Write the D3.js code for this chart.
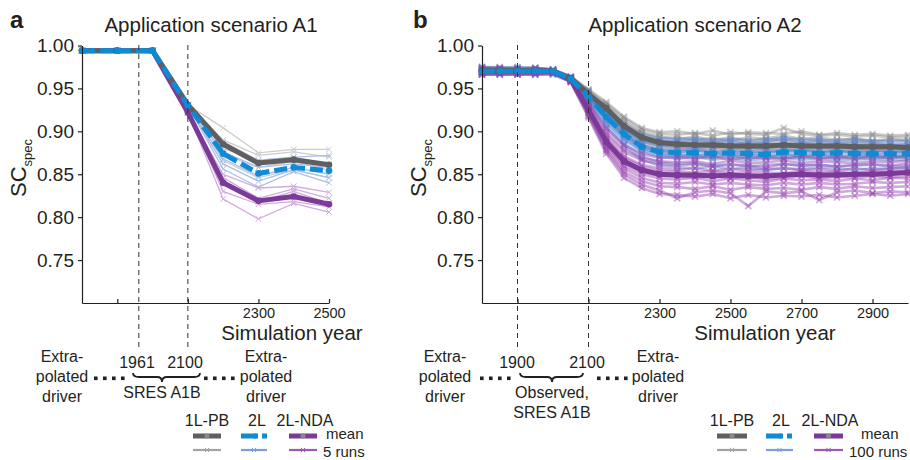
<!DOCTYPE html>
<html>
<head>
<meta charset="utf-8">
<script src="https://cdn.jsdelivr.net/npm/d3@7"></script>
<style>
  body { margin: 0; background: #fff; }
  text { font-family: "Liberation Sans", Arial, sans-serif; fill: #231f20; }
</style>
</head>
<body>
<svg id="drawing_region"></svg>
<script>
// ---- data ----
const yTicks = [0.75, 0.80, 0.85, 0.90, 0.95, 1.00];
const models = ["1L-PB", "2L", "2L-NDA"];

// panel a : application scenario A1, 5 runs
const yearsA = [1800, 1900, 2000, 2100, 2200, 2300, 2400, 2500];
const xTicksA = [1900, 2100, 2300, 2500];
const xLabelsA = [2300, 2500];
const meanA_1LPB = [0.994, 0.994, 0.994, 0.931, 0.885, 0.863, 0.867, 0.861];
const meanA_2L = [0.994, 0.994, 0.994, 0.930, 0.874, 0.851, 0.858, 0.854];
const meanA_2LNDA = [0.994, 0.994, 0.994, 0.922, 0.840, 0.819, 0.824, 0.815];
const runsA_1LPB = [
  [0.994, 0.994, 0.994, 0.931, 0.904, 0.875, 0.879, 0.879],
  [0.994, 0.994, 0.994, 0.931, 0.890, 0.872, 0.876, 0.870],
  [0.994, 0.994, 0.994, 0.931, 0.880, 0.866, 0.870, 0.862],
  [0.994, 0.994, 0.994, 0.931, 0.873, 0.858, 0.865, 0.855],
  [0.994, 0.994, 0.994, 0.931, 0.866, 0.846, 0.855, 0.846]
];
const runsA_2L = [
  [0.994, 0.994, 0.994, 0.930, 0.888, 0.866, 0.870, 0.872],
  [0.994, 0.994, 0.994, 0.930, 0.876, 0.858, 0.862, 0.858],
  [0.994, 0.994, 0.994, 0.930, 0.868, 0.848, 0.858, 0.850],
  [0.994, 0.994, 0.994, 0.930, 0.862, 0.842, 0.855, 0.846],
  [0.994, 0.994, 0.994, 0.930, 0.856, 0.835, 0.853, 0.840]
];
const runsA_2LNDA = [
  [0.994, 0.994, 0.994, 0.922, 0.850, 0.834, 0.836, 0.829],
  [0.994, 0.994, 0.994, 0.922, 0.846, 0.822, 0.833, 0.822],
  [0.994, 0.994, 0.994, 0.922, 0.838, 0.818, 0.830, 0.816],
  [0.994, 0.994, 0.994, 0.922, 0.830, 0.815, 0.818, 0.812],
  [0.994, 0.994, 0.994, 0.922, 0.821, 0.798, 0.816, 0.806]
];

// panel b : application scenario A2, 100 runs (a sample of them drawn)
const yearsB = [1800, 1850, 1900, 1950, 2000, 2050, 2100, 2150, 2200, 2250, 2300, 2350, 2400,
  2450, 2500, 2550, 2600, 2650, 2700, 2750, 2800, 2850, 2900, 2950, 3000];
const xTicksB = [1900, 2100, 2300, 2500, 2700, 2900];
const xLabelsB = [2300, 2500, 2700, 2900];
const meanB_1LPB = [0.971, 0.971, 0.971, 0.971, 0.970, 0.962, 0.943, 0.927, 0.906, 0.893, 0.887, 0.885,
  0.884, 0.884, 0.883, 0.883, 0.883, 0.884, 0.883, 0.883, 0.883, 0.882, 0.882, 0.882, 0.881];
const meanB_2L = [0.970, 0.970, 0.970, 0.970, 0.970, 0.961, 0.940, 0.917, 0.897, 0.882, 0.876, 0.875,
  0.875, 0.874, 0.875, 0.874, 0.873, 0.876, 0.875, 0.874, 0.875, 0.874, 0.874, 0.874, 0.874];
const meanB_2LNDA = [0.970, 0.970, 0.970, 0.970, 0.970, 0.960, 0.925, 0.888, 0.865, 0.855, 0.850, 0.849,
  0.849, 0.848, 0.849, 0.848, 0.848, 0.849, 0.850, 0.849, 0.849, 0.850, 0.850, 0.851, 0.852];
const runsB_1LPB = [
  [0.974,0.974,0.973,0.973,0.972,0.964,0.948,0.932,0.915,0.902,0.897,0.896,0.898,0.895,0.899,0.897,0.896,0.904,0.897,0.895,0.896,0.894,0.895,0.893,0.894],
  [0.972,0.973,0.972,0.972,0.971,0.963,0.945,0.928,0.910,0.898,0.892,0.893,0.890,0.892,0.889,0.893,0.891,0.890,0.892,0.889,0.890,0.891,0.888,0.890,0.889],
  [0.970,0.970,0.971,0.970,0.970,0.962,0.942,0.924,0.904,0.891,0.886,0.884,0.886,0.883,0.885,0.884,0.883,0.886,0.884,0.885,0.882,0.884,0.883,0.882,0.883],
  [0.968,0.969,0.969,0.968,0.969,0.961,0.940,0.921,0.900,0.887,0.880,0.879,0.878,0.880,0.877,0.879,0.878,0.877,0.880,0.876,0.878,0.877,0.879,0.876,0.877],
  [0.971,0.971,0.970,0.971,0.970,0.962,0.944,0.927,0.908,0.895,0.889,0.887,0.889,0.886,0.888,0.885,0.887,0.889,0.886,0.888,0.885,0.887,0.886,0.884,0.885],
  [0.969,0.970,0.970,0.969,0.969,0.961,0.941,0.922,0.902,0.889,0.883,0.881,0.880,0.882,0.879,0.881,0.879,0.880,0.878,0.880,0.879,0.878,0.877,0.879,0.878],
  [0.973,0.972,0.972,0.973,0.971,0.963,0.946,0.930,0.912,0.899,0.894,0.891,0.894,0.890,0.893,0.889,0.892,0.895,0.891,0.893,0.890,0.892,0.889,0.891,0.890],
  [0.967,0.968,0.968,0.967,0.968,0.960,0.938,0.918,0.897,0.884,0.876,0.874,0.872,0.875,0.871,0.874,0.870,0.873,0.871,0.873,0.872,0.870,0.872,0.871,0.870],
  [0.972,0.971,0.971,0.972,0.971,0.963,0.943,0.926,0.906,0.893,0.887,0.888,0.885,0.889,0.884,0.887,0.886,0.884,0.887,0.883,0.886,0.884,0.885,0.883,0.884],
  [0.970,0.969,0.970,0.970,0.969,0.961,0.942,0.923,0.903,0.890,0.884,0.882,0.884,0.881,0.883,0.880,0.882,0.881,0.883,0.881,0.880,0.882,0.880,0.881,0.879],
  [0.975,0.975,0.974,0.974,0.972,0.964,0.949,0.934,0.917,0.904,0.899,0.900,0.897,0.901,0.896,0.899,0.898,0.897,0.900,0.896,0.898,0.896,0.897,0.895,0.896],
  [0.966,0.967,0.967,0.966,0.967,0.959,0.937,0.916,0.894,0.881,0.873,0.870,0.871,0.869,0.872,0.868,0.871,0.869,0.870,0.868,0.870,0.869,0.868,0.870,0.869]
];
const runsB_2L = [
  [0.974,0.973,0.974,0.973,0.972,0.963,0.946,0.924,0.906,0.893,0.889,0.888,0.890,0.887,0.889,0.886,0.888,0.891,0.887,0.889,0.886,0.888,0.887,0.885,0.886],
  [0.972,0.972,0.971,0.972,0.971,0.962,0.943,0.920,0.901,0.888,0.883,0.882,0.880,0.883,0.881,0.882,0.879,0.884,0.881,0.880,0.882,0.879,0.881,0.880,0.881],
  [0.970,0.970,0.970,0.969,0.970,0.961,0.940,0.916,0.896,0.882,0.877,0.876,0.877,0.875,0.876,0.874,0.875,0.877,0.876,0.874,0.876,0.875,0.873,0.875,0.874],
  [0.968,0.968,0.969,0.968,0.969,0.960,0.937,0.911,0.890,0.876,0.870,0.868,0.870,0.867,0.869,0.866,0.868,0.869,0.867,0.868,0.866,0.867,0.868,0.866,0.867],
  [0.971,0.971,0.971,0.971,0.970,0.961,0.941,0.918,0.898,0.884,0.879,0.878,0.879,0.877,0.878,0.877,0.876,0.879,0.878,0.877,0.878,0.876,0.877,0.878,0.876],
  [0.969,0.969,0.968,0.969,0.968,0.960,0.938,0.913,0.892,0.878,0.872,0.871,0.872,0.870,0.872,0.869,0.870,0.872,0.870,0.871,0.869,0.871,0.870,0.869,0.870],
  [0.973,0.972,0.972,0.972,0.971,0.962,0.944,0.922,0.903,0.890,0.885,0.884,0.885,0.883,0.884,0.882,0.884,0.886,0.883,0.885,0.883,0.884,0.882,0.884,0.883],
  [0.967,0.967,0.967,0.968,0.967,0.959,0.935,0.908,0.886,0.871,0.864,0.862,0.863,0.860,0.862,0.859,0.861,0.862,0.860,0.861,0.859,0.860,0.861,0.859,0.860],
  [0.971,0.970,0.971,0.970,0.970,0.961,0.940,0.917,0.897,0.883,0.878,0.875,0.878,0.876,0.874,0.877,0.875,0.876,0.878,0.875,0.877,0.874,0.876,0.875,0.877],
  [0.969,0.970,0.969,0.969,0.969,0.960,0.939,0.914,0.894,0.880,0.874,0.873,0.871,0.874,0.872,0.873,0.871,0.874,0.872,0.873,0.871,0.873,0.872,0.871,0.873],
  [0.975,0.974,0.975,0.974,0.972,0.963,0.947,0.926,0.908,0.896,0.892,0.890,0.892,0.889,0.891,0.889,0.890,0.893,0.889,0.891,0.888,0.890,0.889,0.888,0.889],
  [0.966,0.966,0.966,0.966,0.966,0.958,0.933,0.905,0.883,0.867,0.860,0.858,0.857,0.859,0.856,0.858,0.855,0.857,0.856,0.858,0.857,0.855,0.857,0.856,0.858]
];
const runsB_2LNDA = [
  [0.974,0.974,0.973,0.974,0.972,0.963,0.934,0.903,0.884,0.874,0.869,0.870,0.868,0.871,0.867,0.870,0.869,0.868,0.871,0.869,0.870,0.868,0.871,0.869,0.872],
  [0.972,0.972,0.972,0.971,0.971,0.962,0.930,0.896,0.876,0.866,0.862,0.860,0.862,0.859,0.861,0.860,0.858,0.862,0.860,0.861,0.859,0.861,0.862,0.860,0.863],
  [0.970,0.970,0.970,0.970,0.970,0.960,0.927,0.891,0.869,0.859,0.854,0.853,0.852,0.854,0.851,0.853,0.852,0.851,0.854,0.852,0.853,0.851,0.854,0.853,0.855],
  [0.968,0.968,0.969,0.968,0.969,0.959,0.922,0.884,0.860,0.850,0.845,0.844,0.846,0.842,0.845,0.843,0.841,0.845,0.843,0.844,0.842,0.845,0.843,0.846,0.845],
  [0.971,0.971,0.970,0.971,0.970,0.961,0.928,0.893,0.871,0.861,0.857,0.855,0.857,0.854,0.856,0.855,0.856,0.857,0.855,0.856,0.854,0.857,0.855,0.857,0.858],
  [0.969,0.969,0.969,0.969,0.969,0.959,0.924,0.887,0.864,0.853,0.848,0.847,0.846,0.848,0.845,0.847,0.844,0.846,0.848,0.845,0.847,0.846,0.848,0.846,0.848],
  [0.973,0.973,0.972,0.972,0.971,0.962,0.932,0.899,0.879,0.869,0.865,0.864,0.865,0.862,0.866,0.863,0.864,0.866,0.863,0.865,0.864,0.863,0.865,0.864,0.866],
  [0.967,0.967,0.967,0.967,0.968,0.958,0.919,0.879,0.853,0.842,0.836,0.835,0.833,0.836,0.832,0.835,0.833,0.834,0.832,0.835,0.833,0.836,0.834,0.835,0.836],
  [0.971,0.970,0.971,0.970,0.970,0.960,0.926,0.889,0.866,0.856,0.851,0.850,0.849,0.851,0.849,0.850,0.848,0.850,0.852,0.849,0.851,0.850,0.851,0.849,0.852],
  [0.969,0.969,0.968,0.969,0.968,0.959,0.921,0.882,0.857,0.846,0.840,0.839,0.841,0.838,0.840,0.838,0.837,0.840,0.838,0.840,0.838,0.839,0.841,0.840,0.841],
  [0.966,0.966,0.966,0.966,0.967,0.957,0.916,0.874,0.846,0.834,0.827,0.826,0.824,0.827,0.822,0.826,0.823,0.825,0.824,0.826,0.823,0.825,0.827,0.825,0.827],
  [0.968,0.968,0.967,0.968,0.968,0.958,0.918,0.877,0.850,0.838,0.831,0.822,0.829,0.831,0.828,0.813,0.830,0.828,0.830,0.820,0.829,0.831,0.828,0.830,0.829]
];

const meanColors = ["#5f5f61", "#0f8bd6", "#7b3a98"];

const svg = d3.select('#drawing_region')
  .attr('width', 910)
  .attr('height', 460);

const yscale = d3.scaleLinear().domain([0.70, 1.00]).range([303, 45.5]);

function drawPanel(cfg) {
  const g = svg.append('g');
  const xscale = d3.scaleLinear().domain(cfg.domain).range(cfg.range);
  const line = d3.line().x((d, i) => xscale(cfg.years[i])).y(d => yscale(d));
  const cross = d3.symbol().type(d3.symbolX).size(cfg.crossSize);

  // panel letter and title
  g.append('text').attr('x', cfg.letterX).attr('y', 28)
    .attr('font-size', '24px').attr('font-weight', 'bold').text(cfg.letter);
  g.append('text').attr('x', cfg.titleX).attr('y', 32)
    .attr('text-anchor', 'middle').attr('font-size', '20.5px').text(cfg.title);

  // y label SC_spec
  const yl = g.append('text')
    .attr('transform', `translate(${cfg.range[0] - 56}, 197) rotate(-90)`)
    .attr('font-size', '22px');
  yl.append('tspan').text('SC');
  yl.append('tspan').attr('font-size', '13px').attr('dy', 6).text('spec');

  // runs
  cfg.runs.forEach((set, m) => {
    set.forEach(run => {
      g.append('path').datum(run)
        .attr('d', line)
        .attr('fill', 'none')
        .attr('stroke', cfg.runColors[m])
        .attr('stroke-width', cfg.runWidth);
      g.selectAll(null).data(run).enter().append('path')
        .attr('d', cross)
        .attr('transform', (d, i) => `translate(${xscale(cfg.years[i])},${yscale(d)})`)
        .attr('fill', 'none')
        .attr('stroke', cfg.runColors[m])
        .attr('stroke-width', cfg.crossWidth);
    });
  });

  // means: purple, grey, then blue dashed on top
  [2, 0, 1].forEach(m => {
    g.append('path').datum(cfg.means[m])
      .attr('d', line)
      .attr('fill', 'none')
      .attr('stroke', meanColors[m])
      .attr('stroke-width', 5)
      .attr('stroke-linejoin', 'round')
      .attr('stroke-dasharray', m === 1 ? '13,5' : null);
    g.selectAll(null).data(cfg.means[m]).enter().append('circle')
      .attr('cx', (d, i) => xscale(cfg.years[i]))
      .attr('cy', d => yscale(d))
      .attr('r', 3.3)
      .attr('fill', meanColors[m]);
  });

  // dashed markers of the driver periods
  cfg.periodYears.forEach(yr => {
    g.append('line')
      .attr('x1', xscale(yr)).attr('x2', xscale(yr))
      .attr('y1', 45).attr('y2', 349)
      .attr('stroke', '#333').attr('stroke-width', 1)
      .attr('stroke-dasharray', '5,4');
  });

  // axes
  const yaxis = g.append('g')
    .attr('transform', `translate(${cfg.range[0]},0)`)
    .call(d3.axisLeft(yscale).tickValues(yTicks).tickFormat(d3.format('.2f'))
      .tickSize(4).tickSizeOuter(0).tickPadding(4));
  yaxis.selectAll('text').attr('font-size', '19px').attr('fill', '#231f20');

  const xaxis = g.append('g')
    .attr('transform', 'translate(0,303)')
    .call(d3.axisBottom(xscale).tickValues(cfg.xTicks)
      .tickFormat(d => cfg.xLabels.includes(d) ? d : '')
      .tickSize(-4).tickSizeOuter(0).tickPadding(5));
  xaxis.selectAll('text').attr('font-size', '14.5px').attr('fill', '#231f20');
  [yaxis, xaxis].forEach(a => {
    a.selectAll('path, line').attr('stroke', '#231f20').attr('stroke-width', 1.2);
    a.attr('font-family', null);
  });

  g.append('text').attr('x', cfg.xlabelX).attr('y', 340)
    .attr('text-anchor', 'middle').attr('font-size', '20.5px').text('Simulation year');

  // driver annotation under the axis
  const ann = cfg.ann;
  const block = (cx, y0, lines) => {
    lines.forEach((t, i) => g.append('text').attr('x', cx).attr('y', y0 + i * 20)
      .attr('text-anchor', 'middle').attr('font-size', '16px').text(t));
  };
  block(ann.leftX, 362, ['Extra-', 'polated', 'driver']);
  block(ann.rightX, 362, ['Extra-', 'polated', 'driver']);
  block(ann.braceMid, 398, ann.braceText);
  ann.yearLabels.forEach((t, i) => {
    g.append('text').attr('x', ann.yearX[i]).attr('y', 368)
      .attr('text-anchor', 'middle').attr('font-size', '16px').text(t);
  });
  ann.dots.forEach(x0 => {
    [0, 9, 18, 27].forEach(dx => {
      g.append('rect').attr('x', x0 + dx).attr('y', 376.5)
        .attr('width', 3.6).attr('height', 3.6).attr('fill', '#231f20');
    });
  });
  const b1 = ann.brace[0], b2 = ann.brace[1], bm = ann.braceMid, by = 373;
  g.append('path')
    .attr('d', `M${b1},${by} Q${b1},${by + 4} ${b1 + 6},${by + 4} L${bm - 5},${by + 4}` +
      ` Q${bm},${by + 4} ${bm},${by + 9} Q${bm},${by + 4} ${bm + 5},${by + 4}` +
      ` L${b2 - 6},${by + 4} Q${b2},${by + 4} ${b2},${by}`)
    .attr('fill', 'none').attr('stroke', '#231f20').attr('stroke-width', 1.8);

  // legend
  const lg = cfg.legend;
  models.forEach((name, m) => {
    g.append('text').attr('x', lg.headX[m]).attr('y', 426)
      .attr('text-anchor', 'middle').attr('font-size', '16px').text(name);
    const x1 = lg.lineX[m][0], x2 = lg.lineX[m][1], xm = (x1 + x2) / 2;
    g.append('line').attr('x1', x1).attr('x2', x2).attr('y1', 436).attr('y2', 436)
      .attr('stroke', meanColors[m]).attr('stroke-width', 5)
      .attr('stroke-dasharray', m === 1 ? '17,4,5,30' : null);
    g.append('circle').attr('cx', m === 1 ? x1 + 14 : xm).attr('cy', 436).attr('r', 2.6)
      .attr('fill', m === 1 ? meanColors[m] : '#888');
    g.append('line').attr('x1', x1).attr('x2', x2).attr('y1', 450).attr('y2', 450)
      .attr('stroke', lg.runColors[m]).attr('stroke-width', 2.2);
    g.append('path').attr('d', d3.symbol().type(d3.symbolX).size(14)())
      .attr('transform', `translate(${xm},450)`)
      .attr('fill', 'none').attr('stroke', lg.runColors[m]).attr('stroke-width', 1);
  });
  g.append('text').attr('x', lg.meanX).attr('y', 439).attr('font-size', '15px').text('mean');
  g.append('text').attr('x', lg.runsX).attr('y', 456.5).attr('font-size', '15px').text(lg.runsText);
}

drawPanel({
  letter: 'a', letterX: 10, title: 'Application scenario A1', titleX: 211,
  domain: [1800, 2500], range: [82, 329],
  years: yearsA, xTicks: xTicksA, xLabels: xLabelsA, xlabelX: 292,
  means: [meanA_1LPB, meanA_2L, meanA_2LNDA],
  runs: [runsA_1LPB, runsA_2L, runsA_2LNDA],
  runColors: ['#cdcdcd', '#abbfe7', '#d2abdd'], runWidth: 1.3, crossSize: 22, crossWidth: 1,
  periodYears: [1961, 2100],
  ann: {
    leftX: 62, rightX: 266, yearLabels: ['1961', '2100'], yearX: [137, 185],
    dots: [94, 204], brace: [133, 200], braceMid: 162, braceText: ['SRES A1B']
  },
  legend: {
    headX: [207, 257, 305],
    lineX: [[193, 221], [241, 267], [289, 317]],
    runColors: ['#a3a3a3', '#7d9ddb', '#9c58b6'],
    meanX: 326, runsX: 323, runsText: '5 runs'
  }
});

drawPanel({
  letter: 'b', letterX: 413, title: 'Application scenario A2', titleX: 695,
  domain: [1800, 3000], range: [482, 908],
  years: yearsB, xTicks: xTicksB, xLabels: xLabelsB, xlabelX: 765,
  means: [meanB_1LPB, meanB_2L, meanB_2LNDA],
  runs: [runsB_1LPB, runsB_2L, runsB_2LNDA],
  runColors: ['rgba(130,130,130,0.42)', 'rgba(95,135,210,0.5)', 'rgba(150,65,175,0.45)'],
  runWidth: 2.6, crossSize: 26, crossWidth: 1.6,
  periodYears: [1900, 2100],
  ann: {
    leftX: 445, rightX: 658, yearLabels: ['1900', '2100'], yearX: [517, 587],
    dots: [480, 597], brace: [520, 583], braceMid: 552, braceText: ['Observed,', 'SRES A1B']
  },
  legend: {
    headX: [732, 781, 830],
    lineX: [[717, 747], [766, 793], [814, 843]],
    runColors: ['#a3a3a3', '#7d9ddb', '#9c58b6'],
    meanX: 861, runsX: 849, runsText: '100 runs'
  }
});
</script>
</body>
</html>
